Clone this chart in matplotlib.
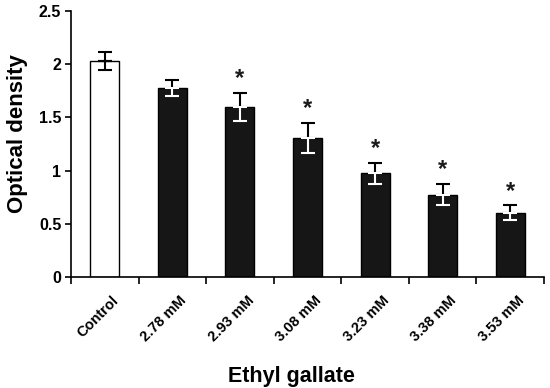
import numpy as np
import matplotlib.pyplot as plt
from matplotlib.ticker import FixedLocator

categories = ["Control", "2.78 mM", "2.93 mM", "3.08 mM", "3.23 mM", "3.38 mM", "3.53 mM"]
means = [2.03, 1.775, 1.60, 1.31, 0.975, 0.775, 0.605]
errors = [0.08, 0.075, 0.13, 0.14, 0.10, 0.10, 0.07]
significant = [False, False, True, True, True, True, True]

plt.rcParams['font.family'] = ['Liberation Sans', 'DejaVu Sans']
plt.rcParams['font.weight'] = 'bold'

fig = plt.figure(figsize=(5.5, 3.88), dpi=100)
ax = fig.add_axes([71 / 550, 1 - 277 / 388, (544 - 71) / 550, (277 - 11) / 388])

x = np.arange(len(categories))
colors = ["white"] + ["#161616"] * (len(categories) - 1)
ax.bar(x, means, width=0.43, color=colors, edgecolor="black", linewidth=1.0, zorder=2)

for i in range(len(categories)):
    m = means[i]
    e = errors[i]
    # upper half of the error bar, black
    ax.errorbar(x[i], m, yerr=[[0], [e]], fmt="none", ecolor="black",
                elinewidth=1.5, capsize=5, capthick=1.5, zorder=3)
    # lower half, white on dark bars
    low = "black" if i == 0 else "white"
    ax.errorbar(x[i], m, yerr=[[e], [0]], fmt="none", ecolor=low,
                elinewidth=1.5, capsize=5, capthick=1.5, zorder=3)
    if significant[i]:
        ax.text(x[i], m + e + 0.025, "*", ha="center", va="bottom",
                fontsize=17, fontweight="bold", color="#1a1a1a")

ax.set_xlim(-0.5, len(categories) - 0.5)
ax.set_ylim(0, 2.5)
ax.set_yticks([0, 0.5, 1, 1.5, 2, 2.5])
ax.set_yticklabels(["0", "0.5", "1", "1.5", "2", "2.5"], fontsize=11.5, fontweight="bold")

ax.set_xticks(x + 0.1)
ax.set_xticklabels(categories, rotation=45, ha="right", rotation_mode="anchor",
                   fontsize=10.5, fontweight="bold")
ax.tick_params(axis="x", which="major", length=0, pad=12)
ax.xaxis.set_minor_locator(FixedLocator(np.arange(-0.5, len(categories), 1.0)))
ax.tick_params(axis="x", which="minor", length=5, width=1.2, direction="out")
ax.tick_params(axis="y", length=4, width=1.2, direction="out", pad=3)

for s in ["top", "right"]:
    ax.spines[s].set_visible(False)
for s in ["left", "bottom"]:
    ax.spines[s].set_linewidth(1.2)

ax.set_ylabel("Optical density", fontsize=16, fontweight="bold")
ax.yaxis.set_label_coords(-0.09, 0.538)
ax.set_xlabel("Ethyl gallate", fontsize=15.5, fontweight="bold")
ax.xaxis.set_label_coords(0.467, -0.335)
ax.xaxis.label.set_va("top")

fig.savefig("out.png", dpi=100)
